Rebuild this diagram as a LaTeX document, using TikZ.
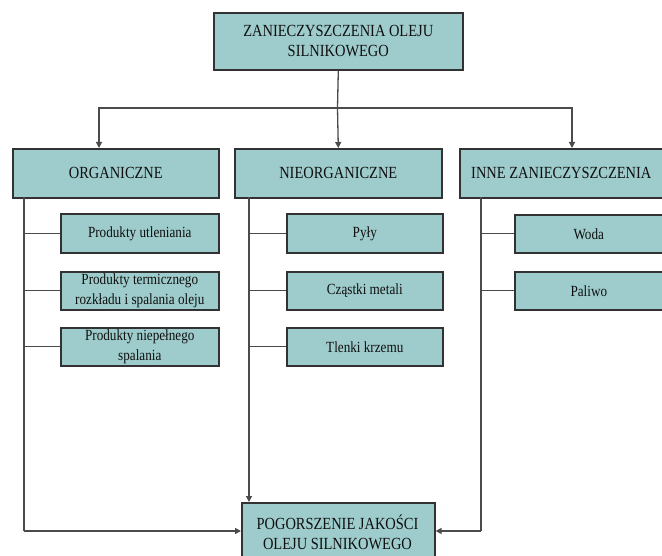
\documentclass[tikz,border=0pt]{standalone}
\usepackage{fontspec}
\setmainfont{Liberation Serif}[FakeStretch=0.85]
\usetikzlibrary{arrows.meta}
\definecolor{boxfill}{RGB}{158,204,204}
\definecolor{boxline}{RGB}{50,50,50}
\definecolor{connline}{RGB}{75,75,75}
\definecolor{txt}{RGB}{15,15,15}
\tikzset{
  box/.style={draw=boxline, line width=1.6pt, fill=boxfill, anchor=north west,
    inner sep=0pt, align=center, text=txt},
  head/.style={box, font=\fontsize{17}{20}\selectfont},
  sub/.style={box, font=\fontsize{15.5}{19.5}\selectfont},
  conn/.style={draw=connline, line width=1.3pt},
  arr/.style={conn, -{Triangle[length=6pt,width=6pt]}}
}
\begin{document}
\begin{tikzpicture}[x=1pt,y=-1pt]
\clip (0,0) rectangle (662,556);
\fill[white] (0,0) rectangle (662,556);
% main boxes
\node[head, minimum width=249pt, minimum height=57pt] (top) at (213,12) {ZANIECZYSZCZENIA OLEJU\\SILNIKOWEGO};
\node[head, minimum width=206pt, minimum height=49pt] (org) at (12,148) {ORGANICZNE};
\node[head, minimum width=207pt, minimum height=49pt] (nie) at (234,148) {NIEORGANICZNE};
\node[head, minimum width=203pt, minimum height=49pt] (inne) at (459,148) {INNE ZANIECZYSZCZENIA};
% sub boxes
\node[sub, minimum width=158pt, minimum height=39pt] (o1) at (60,213) {Produkty utleniania};
\node[sub, minimum width=158pt, minimum height=38pt] (o2) at (60,271) {Produkty termicznego\\rozkładu i spalania oleju};
\node[sub, minimum width=158pt, minimum height=38pt] (o3) at (60,327) {Produkty niepełnego\\spalania};
\node[sub, minimum width=156pt, minimum height=39pt] (n1) at (286,213) {Pyły};
\node[sub, minimum width=156pt, minimum height=38pt] (n2) at (286,271) {Cząstki metali};
\node[sub, minimum width=156pt, minimum height=38pt] (n3) at (286,327) {Tlenki krzemu};
\node[sub, minimum width=148pt, minimum height=38pt] (i1) at (514,214) {Woda};
\node[sub, minimum width=148pt, minimum height=38pt] (i2) at (514,271) {Paliwo};
% result box (extends below the picture)
\node[head, minimum width=193pt, minimum height=72pt] (res) at (241,502) {};
\node[font=\fontsize{17}{20}\selectfont, text=txt, align=center] (restext) at (337.5,532) {POGORSZENIE JAKOŚCI\\OLEJU SILNIKOWEGO};
% top distribution
\coordinate (hub) at (337.5,108);
\coordinate (hl) at (99,108);
\coordinate (hr) at (572,108);
\draw[conn] (top.south) -- (hub);
\draw[arr] (hub) -- (hl) -- (hl |- org.north);
\draw[arr] (hub) -- (nie.north);
\draw[arr] (hub) -- (hr) -- (hr |- inne.north);
% spines
\coordinate (os) at (24,197);
\coordinate (ob) at (24,531);
\coordinate (ns) at (249,197);
\coordinate (is) at (481,197);
\coordinate (ib) at (481,531);
\draw[conn] (os) -- (ob);
\draw[arr] (ob) -- (ob -| res.west);
\draw[arr] (ns) -- (ns |- res.north);
\draw[conn] (is) -- (ib);
\draw[arr] (ib) -- (ib -| res.east);
% branches
\foreach \n in {o1,o2,o3} \draw[conn] (\n.west -| os) -- (\n.west);
\foreach \n in {n1,n2,n3} \draw[conn] (\n.west -| ns) -- (\n.west);
\foreach \n in {i1,i2} \draw[conn] (\n.west -| is) -- (\n.west);
\end{tikzpicture}
\end{document}
